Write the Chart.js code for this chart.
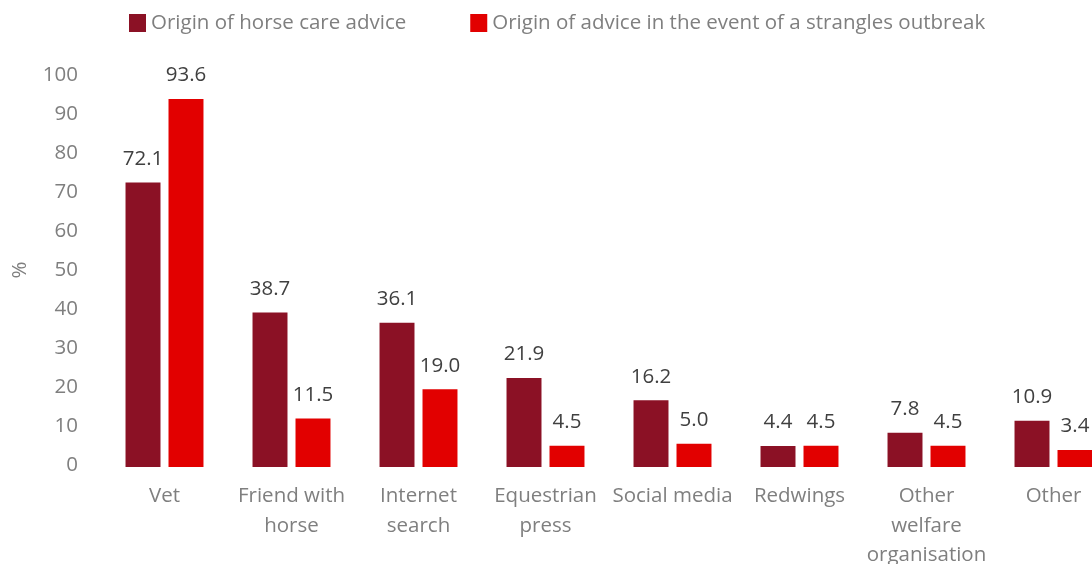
<!DOCTYPE html>
<html>
<head>
<meta charset="utf-8">
<script src="https://cdn.jsdelivr.net/npm/chart.js@4/dist/chart.umd.min.js"></script>
<style>
  body { margin: 0; background: #fff; }
  #wrap { width: 1092px; height: 564px; overflow: hidden; position: relative; }
  canvas { display: block; }
</style>
</head>
<body>
<div id="wrap"><canvas id="grafico" width="1117" height="600"></canvas></div>
<script>
// dati
const categorie = [
  "Vet", ["Friend with", "horse"], ["Internet", "search"], ["Equestrian", "press"],
  "Social media", "Redwings", ["Other", "welfare", "organisation"], "Other"
];
const serieNomi = ["Origin of horse care advice", "Origin of advice in the event of a strangles outbreak"];
const consigliCura = [72.1, 38.7, 36.1, 21.9, 16.2, 4.4, 7.8, 10.9];
const consigliStrangles = [93.6, 11.5, 19.0, 4.5, 5.0, 4.5, 4.5, 3.4];
const tickY = [0, 10, 20, 30, 40, 50, 60, 70, 80, 90, 100];

const colori = ["#8B1125", "#E20000"];
const FONT = "'Open Sans', sans-serif";
const GRIGIO = "#7F7F7F";
// le barre partono un po' sotto lo zero, come in Excel
const BASE = -1.23;

// etichette dei valori sopra le barre
const etichetteValori = {
  id: "etichetteValori",
  afterDatasetsDraw(chart) {
    const ctx = chart.ctx;
    ctx.save();
    ctx.font = "20.5px " + FONT;
    ctx.fillStyle = "#404040";
    ctx.textAlign = "center";
    ctx.textBaseline = "middle";
    chart.data.datasets.forEach((ds, i) => {
      chart.getDatasetMeta(i).data.forEach((bar, j) => {
        ctx.fillText(ds.data[j].toFixed(1), bar.x, bar.y - 22.5);
      });
    });
    ctx.restore();
  }
};

// legenda disegnata a mano (spaziatura come nell'originale)
const legenda = {
  id: "legenda",
  afterDraw(chart) {
    const ctx = chart.ctx;
    ctx.save();
    ctx.font = "20.5px " + FONT;
    ctx.textBaseline = "middle";
    ctx.textAlign = "left";
    let x = 129;
    const y = 23;
    chart.data.datasets.forEach((ds, i) => {
      ctx.fillStyle = ds.backgroundColor;
      ctx.fillRect(x, y - 9, 17, 18);
      ctx.fillStyle = GRIGIO;
      ctx.fillText(ds.label, x + 22, y);
      x += 22 + ctx.measureText(ds.label).width + 64;
    });
    ctx.restore();
  }
};

new Chart(document.getElementById("grafico"), {
  type: "bar",
  data: {
    labels: categorie,
    datasets: [
      { label: serieNomi[0], data: consigliCura, backgroundColor: colori[0],
        borderColor: "rgba(255,255,255,0.5)", borderWidth: 1, base: BASE,
        categoryPercentage: 0.677, barPercentage: 0.86 },
      { label: serieNomi[1], data: consigliStrangles, backgroundColor: colori[1],
        borderColor: "rgba(255,255,255,0.5)", borderWidth: 1, base: BASE,
        categoryPercentage: 0.677, barPercentage: 0.86 }
    ]
  },
  options: {
    responsive: false,
    animation: false,
    layout: { padding: { top: 73, right: 0, left: 0, bottom: 0 } },
    plugins: {
      legend: { display: false },
      tooltip: { enabled: false }
    },
    scales: {
      x: {
        grid: { display: false },
        border: { display: false },
        ticks: {
          color: GRIGIO, font: { family: FONT, size: 20.5, lineHeight: 1.42 },
          padding: 7, maxRotation: 0, autoSkip: false
        },
        afterFit: s => { s.height = 133; }
      },
      y: {
        min: BASE, max: 100,
        afterBuildTicks: s => { s.ticks = tickY.map(v => ({ value: v })); },
        grid: { display: false, drawTicks: false },
        border: { display: false },
        ticks: { color: GRIGIO, font: { family: FONT, size: 20.5 }, padding: 23, labelOffset: 2.5 },
        title: {
          display: true, text: "%", color: GRIGIO,
          font: { family: FONT, size: 20.5 }, padding: { top: 8, bottom: 0 }
        },
        afterFit: s => { s.width = 101; }
      }
    }
  },
  plugins: [etichetteValori, legenda]
});
</script>
</body>
</html>
